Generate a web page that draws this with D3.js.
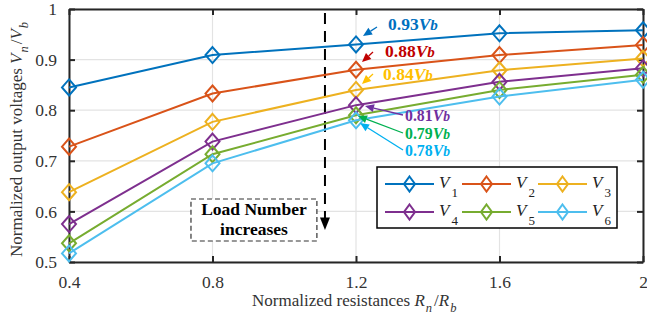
<!DOCTYPE html>
<html>
<head>
<meta charset="utf-8">
<script src="https://cdn.jsdelivr.net/npm/d3@7"></script>
<style>
  html, body { margin: 0; padding: 0; background: #fff; }
  svg { display: block; font-family: "Liberation Serif", "Times New Roman", serif; }
</style>
</head>
<body>
<svg id="chart" width="647" height="323"></svg>
<script>
// Normalized resistance values (x) and output voltages for each load
const resistances = [0.4, 0.8, 1.2, 1.6, 2.0];
const seriesNames = ["1", "2", "3", "4", "5", "6"];
const V1 = [0.845, 0.909, 0.93, 0.952, 0.958];
const V2 = [0.728, 0.833, 0.88, 0.909, 0.929];
const V3 = [0.638, 0.777, 0.84, 0.879, 0.902];
const V4 = [0.575, 0.738, 0.81, 0.856, 0.883];
const V5 = [0.537, 0.713, 0.79, 0.840, 0.870];
const V6 = [0.517, 0.695, 0.78, 0.827, 0.860];
const seriesValues = [V1, V2, V3, V4, V5, V6];
const seriesColors = ["#0072BD", "#D95319", "#EDB120", "#7E2F8E", "#77AC30", "#4DBEEE"];

const xTicks = [0.4, 0.8, 1.2, 1.6, 2];
const xTickLabels = ["0.4", "0.8", "1.2", "1.6", "2"];
const yTicks = [0.5, 0.6, 0.7, 0.8, 0.9, 1];
const yTickLabels = ["0.5", "0.6", "0.7", "0.8", "0.9", "1"];

// Values called out at R/Rb = 1.2
const calloutValues = ["0.93", "0.88", "0.84", "0.81", "0.79", "0.78"];
const calloutColors = ["#0070C0", "#C00000", "#FFC000", "#7030A0", "#00B050", "#00B0F0"];

const svg = d3.select("#chart");
const L = 69, R = 643, T = 9, B = 262;

const x = d3.scaleLinear().domain([0.4, 2]).range([L, R]);
const y = d3.scaleLinear().domain([0.5, 1]).range([B, T]);

// grid
const grid = svg.append("g");
grid.selectAll("line.gx").data(xTicks).join("line")
  .attr("x1", d => x(d)).attr("x2", d => x(d)).attr("y1", T).attr("y2", B)
  .attr("stroke", "#e3e3e3").attr("stroke-width", 1.2);
grid.selectAll("line.gy").data(yTicks).join("line")
  .attr("y1", d => y(d)).attr("y2", d => y(d)).attr("x1", L).attr("x2", R)
  .attr("stroke", "#e3e3e3").attr("stroke-width", 1.2);

// axes with inward ticks on all four sides
const tk = 6;
const axB = svg.append("g").attr("transform", `translate(0,${B})`)
  .call(d3.axisBottom(x).tickValues(xTicks).tickSizeInner(-tk).tickSizeOuter(0)
    .tickFormat((d, i) => xTickLabels[i]).tickPadding(14));
const axT = svg.append("g").attr("transform", `translate(0,${T})`)
  .call(d3.axisTop(x).tickValues(xTicks).tickSizeInner(-tk).tickSizeOuter(0).tickFormat(""));
const axL = svg.append("g").attr("transform", `translate(${L},0)`)
  .call(d3.axisLeft(y).tickValues(yTicks).tickSizeInner(-tk).tickSizeOuter(0)
    .tickFormat((d, i) => yTickLabels[i]).tickPadding(12));
const axR = svg.append("g").attr("transform", `translate(${R},0)`)
  .call(d3.axisRight(y).tickValues(yTicks).tickSizeInner(-tk).tickSizeOuter(0).tickFormat(""));
[axB, axT, axL, axR].forEach(a => {
  a.select(".domain").attr("stroke", "#262626").attr("stroke-width", 2);
  a.selectAll(".tick line").attr("stroke", "#262626").attr("stroke-width", 2);
  a.selectAll(".tick text").attr("font-family", "Liberation Serif").attr("font-size", 17.5).attr("fill", "#333");
});

// vertical "load number" dashed arrow
const ax0 = x(1.1135);
svg.append("line").attr("x1", ax0).attr("x2", ax0).attr("y1", y(0.992)).attr("y2", y(0.585))
  .attr("stroke", "#000").attr("stroke-width", 2).attr("stroke-dasharray", "11,7");
svg.append("path")
  .attr("d", `M${ax0 - 5},${y(0.588)} L${ax0 + 5},${y(0.588)} L${ax0},${y(0.563)} Z`)
  .attr("fill", "#000");

// annotation box
const bx0 = x(0.74), bx1 = x(1.091), by0 = y(0.6245), by1 = y(0.5415);
svg.append("rect").attr("x", bx0).attr("y", by0).attr("width", bx1 - bx0).attr("height", by1 - by0)
  .attr("fill", "#fff").attr("stroke", "#333").attr("stroke-width", 1.2).attr("stroke-dasharray", "5,3");
svg.append("text").attr("x", (bx0 + bx1) / 2).attr("y", by0 + 16).attr("text-anchor", "middle")
  .attr("font-weight", "bold").attr("font-size", 17.5).text("Load Number");
svg.append("text").attr("x", (bx0 + bx1) / 2).attr("y", by0 + 36).attr("text-anchor", "middle")
  .attr("font-weight", "bold").attr("font-size", 17.5).text("increases");

// series lines and diamond markers
const line = d3.line().x((d, i) => x(resistances[i])).y(d => y(d));
const diamond = (cx, cy, w, h) => `M${cx},${cy - h} L${cx + w},${cy} L${cx},${cy + h} L${cx - w},${cy} Z`;
seriesValues.forEach((vals, s) => {
  const g = svg.append("g");
  g.append("path").datum(vals).attr("d", line).attr("fill", "none")
    .attr("stroke", seriesColors[s]).attr("stroke-width", 2);
  g.selectAll("path.m").data(vals).join("path").attr("class", "m")
    .attr("d", (d, i) => diamond(x(resistances[i]), y(d), 7, 8))
    .attr("fill", "none").attr("stroke", seriesColors[s]).attr("stroke-width", 2);
});

// callouts at R/Rb = 1.2 (the three stacked lower ones use a slightly smaller size)
const callouts = [
  { tx: 388, ty: 30, size: 17.5, from: [377, 27], to: [363, 36] },
  { tx: 385, ty: 57, size: 17.5, from: [373, 52], to: [362, 62] },
  { tx: 383, ty: 80, size: 17.5, from: [373, 74], to: [362, 84] },
  { tx: 405, ty: 121, size: 15.8, from: [403, 115], to: [365, 106] },
  { tx: 405, ty: 138.7, size: 15.8, from: [403, 133], to: [358, 116] },
  { tx: 405, ty: 156.4, size: 15.8, from: [403, 150], to: [360, 123] }
];
callouts.forEach((c, i) => {
  const col = calloutColors[i];
  const [x1, y1] = c.from, [x2, y2] = c.to;
  const ang = Math.atan2(y2 - y1, x2 - x1);
  const hl = 9, hw = 4;
  const bxp = x2 - hl * Math.cos(ang), byp = y2 - hl * Math.sin(ang);
  svg.append("line").attr("x1", x1).attr("y1", y1).attr("x2", bxp).attr("y2", byp)
    .attr("stroke", col).attr("stroke-width", 1.3);
  svg.append("path").attr("fill", col).attr("d",
    `M${x2},${y2} L${bxp - hw * Math.sin(ang)},${byp + hw * Math.cos(ang)} L${bxp + hw * Math.sin(ang)},${byp - hw * Math.cos(ang)} Z`);
  const t = svg.append("text").attr("x", c.tx).attr("y", c.ty).attr("fill", col)
    .attr("font-size", c.size).attr("font-weight", "bold");
  t.append("tspan").text(calloutValues[i]);
  t.append("tspan").attr("font-style", "italic").text("V");
  t.append("tspan").attr("font-style", "italic").attr("font-size", c.size * 0.86).text("b");
});

// legend
const lg = svg.append("g");
lg.append("rect").attr("x", 377).attr("y", 167).attr("width", 240).attr("height", 61)
  .attr("fill", "#fff").attr("stroke", "#000").attr("stroke-width", 1.5);
const colX = [385, 462, 538], rowY = [184, 212];
seriesNames.forEach((n, i) => {
  const cx = colX[i % 3], cy = rowY[Math.floor(i / 3)];
  lg.append("line").attr("x1", cx).attr("x2", cx + 49).attr("y1", cy).attr("y2", cy)
    .attr("stroke", seriesColors[i]).attr("stroke-width", 2);
  lg.append("path").attr("d", diamond(cx + 24.5, cy, 5.5, 7.5))
    .attr("fill", "none").attr("stroke", seriesColors[i]).attr("stroke-width", 2);
  const t = lg.append("text").attr("x", cx + 54).attr("y", cy + 4).attr("font-size", 17).attr("fill", "#222");
  t.append("tspan").attr("font-style", "italic").text("V");
  t.append("tspan").attr("dx", 2).attr("dy", 9).attr("font-size", 13).text(n);
});

// axis titles
const xt = svg.append("text").attr("x", 252).attr("y", 306)
  .attr("font-size", 17).attr("fill", "#333");
xt.append("tspan").text("Normalized resistances ");
xt.append("tspan").attr("font-style", "italic").text("R");
xt.append("tspan").attr("font-style", "italic").attr("font-size", 12.5).attr("dx", 1).attr("dy", 6).text("n");
xt.append("tspan").attr("dx", 2).attr("dy", -6).text("/");
xt.append("tspan").attr("font-style", "italic").text("R");
xt.append("tspan").attr("font-style", "italic").attr("font-size", 12.5).attr("dx", 1).attr("dy", 6).text("b");

const yt = svg.append("text").attr("transform", "translate(22,257) rotate(-90)")
  .attr("font-size", 17).attr("fill", "#333");
yt.append("tspan").text("Normalized output voltages ");
yt.append("tspan").attr("font-style", "italic").text("V");
yt.append("tspan").attr("font-style", "italic").attr("font-size", 12.5).attr("dx", 1).attr("dy", 6).text("n");
yt.append("tspan").attr("dx", 2).attr("dy", -6).text("/");
yt.append("tspan").attr("font-style", "italic").text("V");
yt.append("tspan").attr("font-style", "italic").attr("font-size", 12.5).attr("dx", 1).attr("dy", 6).text("b");
</script>
</body>
</html>
